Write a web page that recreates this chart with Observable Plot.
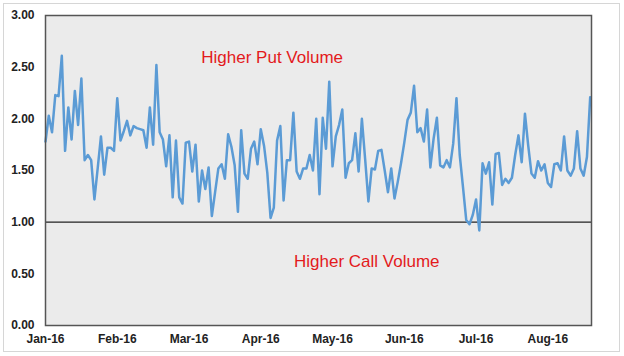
<!DOCTYPE html>
<html><head><meta charset="utf-8">
<script src="https://cdn.jsdelivr.net/npm/d3@7"></script>
<script src="https://cdn.jsdelivr.net/npm/@observablehq/plot@0.6"></script>
<style>
html,body{margin:0;padding:0;background:#fff;}
#wrap{position:relative;width:624px;height:356px;}
#wrap svg{position:absolute;left:0;top:0;}
#border{position:absolute;left:3px;top:3px;width:615px;height:347px;border:1px solid #d6d6d6;pointer-events:none;}
</style></head><body>
<div id="wrap"><div id="border"></div></div>
<script>
// Put/call ratio, one value per trading day (Jan–Aug 2016)
const ratio = [
1.78,2.03,1.87,2.23,2.22,2.61,1.69,2.11,1.80,2.27,1.94,2.39,1.60,1.65,1.60,1.22,1.52,1.83,1.46,1.72,
1.72,1.69,2.20,1.79,1.88,1.98,1.84,1.93,1.91,1.90,1.89,1.72,2.11,1.75,2.52,1.87,1.80,1.54,1.84,1.24,
1.79,1.24,1.18,1.77,1.78,1.49,1.75,1.20,1.50,1.32,1.53,1.06,1.29,1.52,1.56,1.42,1.85,1.73,1.55,1.10,
1.89,1.47,1.42,1.71,1.78,1.56,1.90,1.74,1.48,1.04,1.14,1.79,1.93,1.21,1.60,1.60,2.06,1.49,1.42,1.52,
1.52,1.65,1.50,2.00,1.27,2.01,1.71,2.36,1.54,1.83,1.94,2.09,1.43,1.57,1.60,1.86,1.49,2.00,1.61,1.20,
1.52,1.51,1.69,1.70,1.50,1.29,1.52,1.23,1.39,1.57,1.77,1.99,2.06,2.32,1.87,1.91,1.78,2.09,1.53,1.81,
2.01,1.55,1.53,1.60,1.53,1.76,2.20,1.65,1.34,1.02,0.98,1.07,1.22,0.92,1.57,1.47,1.58,1.17,1.66,1.67,
1.36,1.42,1.38,1.43,1.65,1.84,1.58,2.05,1.74,1.47,1.43,1.59,1.50,1.56,1.38,1.34,1.56,1.57,1.50,1.83,
1.50,1.45,1.52,1.88,1.52,1.45,1.63,2.21
];
const monthLabels = ["Jan-16","Feb-16","Mar-16","Apr-16","May-16","Jun-16","Jul-16","Aug-16"];
const monthTickIndex = [0,22,44,66,88,110,132,154];
const yTicks = [0,0.5,1,1.5,2,2.5,3];
const threshold = 1.0;
const annotations = ["Higher Put Volume","Higher Call Volume"];
const annotationX = [69.5, 98.5];
const annotationY = [2.59, 0.62];

const data = ratio.map((v,i)=>({i, v}));
const notes = annotations.map((t,k)=>({t, x: annotationX[k], y: annotationY[k]}));
const font = "'Liberation Sans', Arial, sans-serif";

const chart = Plot.plot({
  width: 624, height: 356,
  marginLeft: 45, marginRight: 33, marginTop: 15, marginBottom: 31,
  style: {fontFamily: font, background: "transparent", overflow: "visible"},
  x: {domain: [0, 167.4], axis: null},
  y: {domain: [0, 3], axis: null},
  marks: [
    Plot.frame({fill: "#ebebeb", stroke: null}),
    Plot.ruleY([threshold], {stroke: "#222", strokeWidth: 1.2}),
    Plot.line(data, {x: "i", y: "v", stroke: "#5b9bd5", strokeWidth: 2.5, strokeLinejoin: "round"}),
    Plot.frame({stroke: "#555", strokeWidth: 1.5}),
    Plot.axisY(yTicks, {tickSize: 0, tickPadding: 11, tickFormat: d3.format(".2f"), fontWeight: "bold", fontSize: 12, fill: "#222"}),
    Plot.axisX(monthTickIndex, {tickSize: 0, tickPadding: 9, tickFormat: d => monthLabels[monthTickIndex.indexOf(d)], fontWeight: "bold", fontSize: 12, fill: "#222"}),
    Plot.text(notes, {x: "x", y: "y", text: "t", fill: "#e31a1c", fontSize: 17})
  ]
});
document.getElementById("wrap").prepend(chart);
</script>
</body></html>
